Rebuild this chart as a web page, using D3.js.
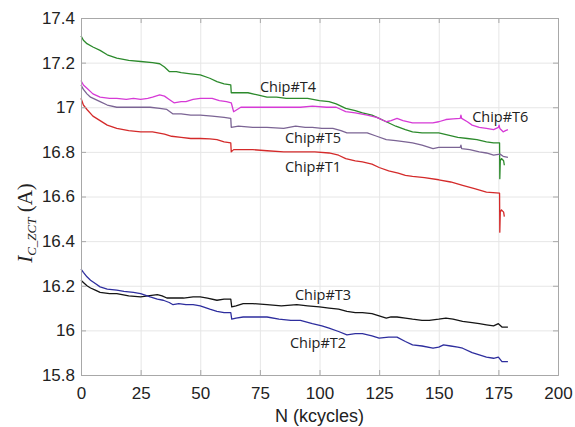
<!DOCTYPE html>
<html>
<head>
<meta charset="utf-8">
<script src="https://cdn.jsdelivr.net/npm/d3@7"></script>
<style>
  body { margin: 0; background: #fff; }
  .tick text { font-family: "Liberation Sans", Arial, sans-serif; font-size: 17px; fill: #222; }
  .chip { font-family: "Open Sans", sans-serif; font-size: 14.5px; fill: #222; }
</style>
</head>
<body>
<div class="canvas"></div>
<script>
// values, [N kcycles, I_C_ZCT A]
const chipT4 = [[0,17.32],[1,17.30],[2.5,17.285],[5,17.27],[8,17.255],[11,17.235],[15,17.22],[20,17.21],[25,17.205],[30,17.2],[33,17.195],[35,17.18],[37,17.16],[40,17.16],[42,17.155],[46,17.15],[50,17.145],[54,17.13],[57,17.115],[60,17.105],[62.8,17.1],[63,17.065],[66,17.065],[70,17.065],[74,17.055],[78,17.045],[82,17.045],[86,17.04],[90,17.04],[95,17.04],[100,17.03],[104,17.025],[107,17.015],[111,16.995],[115,16.985],[118,16.975],[122,16.965],[125,16.95],[128,16.935],[132,16.915],[136,16.9],[139,16.89],[143,16.885],[147,16.885],[150,16.885],[154,16.875],[158,16.865],[162,16.86],[166,16.855],[170,16.845],[173,16.84],[175.5,16.84],[175.6,16.68],[175.8,16.76],[176.3,16.77],[177.2,16.76],[177.5,16.74]];
const chipT6 = [[0,17.12],[1,17.1],[2.5,17.085],[5,17.06],[8,17.045],[12,17.04],[15,17.04],[19,17.035],[22,17.04],[25,17.035],[28,17.04],[30,17.045],[33,17.055],[35,17.05],[37,17.035],[39,17.02],[42,17.025],[44,17.025],[47,17.035],[50,17.04],[53,17.04],[55,17.04],[58,17.03],[61,17.025],[63,17.02],[64,16.98],[65.5,16.99],[67,17.0],[72,17.0],[78,17.0],[85,17.0],[92,17.0],[97,17.005],[103,17.0],[107,17.0],[111,16.98],[115,16.975],[120,16.965],[124,16.955],[128,16.935],[130,16.94],[132.5,16.95],[135,16.94],[139,16.93],[143,16.93],[147.5,16.93],[150,16.935],[153,16.945],[156,16.948],[159,16.95],[159.3,16.965],[159.6,16.95],[162,16.935],[164,16.92],[167,16.91],[170,16.905],[173,16.9],[175,16.91],[175.3,16.92],[175.6,16.905],[177,16.89],[178,16.895],[179,16.9]];
const chipT5 = [[0,17.1],[1,17.08],[2.5,17.06],[4,17.045],[6,17.035],[8,17.025],[11,17.01],[15,17.0],[20,17.0],[25,17.0],[29,17.0],[33,16.995],[36,16.99],[38.6,16.97],[42,16.97],[46,16.965],[50,16.965],[55,16.96],[60,16.955],[62.8,16.95],[63,16.91],[66,16.915],[72,16.91],[78,16.91],[85,16.905],[90,16.915],[94,16.91],[97,16.91],[101,16.905],[105.6,16.905],[109,16.895],[111.5,16.885],[116,16.885],[120,16.885],[124,16.87],[128,16.855],[132,16.85],[136,16.845],[139,16.84],[143,16.83],[147.6,16.815],[150,16.82],[153,16.82],[157,16.82],[159,16.82],[159.3,16.83],[159.6,16.815],[163,16.81],[167,16.8],[170,16.795],[173,16.785],[175.7,16.79],[177,16.78],[179,16.775]];
const chipT1 = [[0,17.04],[1,17.01],[2.5,16.99],[5,16.96],[8,16.94],[11,16.92],[15,16.905],[20,16.895],[25,16.89],[30,16.89],[35,16.88],[38,16.87],[42,16.865],[46,16.86],[50,16.86],[54,16.858],[57,16.855],[60,16.845],[62.8,16.84],[63,16.8],[64,16.81],[68,16.81],[72,16.81],[78,16.805],[85,16.8],[92,16.8],[98,16.8],[104,16.795],[108,16.785],[111,16.77],[115,16.76],[118,16.755],[122,16.745],[125,16.73],[129,16.715],[133,16.705],[136,16.695],[139,16.69],[144,16.685],[150,16.675],[155,16.665],[160,16.65],[165,16.635],[170,16.62],[175.5,16.615],[175.6,16.44],[175.8,16.53],[176.3,16.54],[177.2,16.53],[177.5,16.51]];
const chipT3 = [[0,16.225],[1,16.215],[2.5,16.2],[4,16.19],[6,16.18],[8,16.17],[12,16.165],[15,16.165],[20,16.155],[25,16.15],[28,16.155],[32,16.16],[34,16.155],[36,16.145],[40,16.145],[43,16.145],[47,16.15],[50,16.15],[53,16.145],[57,16.135],[60,16.14],[62.8,16.14],[63.2,16.105],[65,16.11],[68,16.12],[72,16.12],[78,16.115],[84,16.11],[90.5,16.115],[95,16.11],[100,16.105],[104,16.1],[108,16.095],[111.5,16.085],[115,16.08],[118,16.08],[122,16.075],[125,16.065],[128,16.055],[130,16.06],[132.5,16.06],[136,16.055],[139,16.05],[143,16.045],[146,16.045],[150,16.05],[153,16.055],[156,16.05],[160,16.04],[164,16.035],[167,16.03],[170,16.025],[173,16.02],[175,16.03],[176.5,16.015],[179,16.015]];
const chipT2 = [[0,16.275],[1,16.26],[2.5,16.24],[4,16.225],[6,16.21],[8,16.195],[11,16.185],[15,16.18],[18,16.175],[22,16.17],[25,16.165],[29,16.15],[32,16.14],[34.5,16.135],[37,16.125],[38.6,16.115],[41,16.12],[44,16.115],[47,16.115],[50,16.11],[54,16.095],[57,16.085],[60,16.08],[62.8,16.08],[63.2,16.05],[65,16.055],[68,16.06],[72,16.06],[78,16.06],[83,16.05],[88,16.045],[92,16.045],[97,16.03],[101,16.02],[104,16.01],[108,15.995],[111.5,15.98],[115,15.985],[118,15.985],[122,15.975],[125,15.965],[129,15.97],[132.5,15.97],[136,15.95],[139,15.935],[143,15.93],[147.6,15.92],[150,15.925],[152,15.935],[155,15.93],[158,15.925],[160,15.92],[164,15.9],[167,15.89],[170,15.88],[173,15.875],[175,15.88],[176.5,15.86],[179,15.86]];

const chipNames = ['Chip#T4', 'Chip#T6', 'Chip#T5', 'Chip#T1', 'Chip#T3', 'Chip#T2'];
const chipColours = ['#2c8a2c', '#d63ad6', '#7b6494', '#d42a2a', '#151515', '#2e2e9e'];
const labelN = [75, 164, 85.5, 85.5, 89.7, 87.6];
const labelI = [17.068, 16.936, 16.84, 16.71, 16.136, 15.921];

const xTicks = [0, 25, 50, 75, 100, 125, 150, 175, 200];
const yTicks = [15.8, 16, 16.2, 16.4, 16.6, 16.8, 17, 17.2, 17.4];

const series = [chipT4, chipT6, chipT5, chipT1, chipT3, chipT2];

const dims = { width: 575, height: 427 };
const margin = { top: 18, right: 17, bottom: 52, left: 81 };
const w = dims.width - margin.left - margin.right;
const h = dims.height - margin.top - margin.bottom;

const svg = d3.select('.canvas')
    .append('svg')
    .attr('width', dims.width)
    .attr('height', dims.height);

const graph = svg.append('g')
    .attr('transform', `translate(${margin.left}, ${margin.top})`);

const x = d3.scaleLinear().domain([0, 200]).range([0, w]);
const y = d3.scaleLinear().domain([15.8, 17.4]).range([h, 0]);

// grid
graph.append('g')
    .attr('transform', `translate(0, ${h})`)
    .call(d3.axisBottom(x).tickValues(xTicks).tickSize(-h).tickFormat(''))
    .call(g => g.select('.domain').remove())
    .selectAll('line').attr('stroke', '#e6e6e6');
graph.append('g')
    .call(d3.axisLeft(y).tickValues(yTicks).tickSize(-w).tickFormat(''))
    .call(g => g.select('.domain').remove())
    .selectAll('line').attr('stroke', '#e6e6e6');

// lines
const line = d3.line()
    .x(d => x(d[0]))
    .y(d => y(d[1]));

graph.selectAll('path.series')
    .data(series)
    .enter()
    .append('path')
        .attr('class', 'series')
        .attr('d', line)
        .attr('fill', 'none')
        .attr('stroke', (d, i) => chipColours[i])
        .attr('stroke-width', 1.3)
        .attr('stroke-linejoin', 'round');

// box axes, ticks pointing in
const boxColour = '#a8a8a8';
const xAxis = graph.append('g')
    .attr('transform', `translate(0, ${h})`)
    .call(d3.axisBottom(x).tickValues(xTicks).tickSize(-5).tickPadding(12).tickFormat(d3.format('d')));
const yAxis = graph.append('g')
    .call(d3.axisLeft(y).tickValues(yTicks).tickSize(-5).tickPadding(6).tickFormat(d => String(+d.toFixed(1))));
const xTop = graph.append('g')
    .call(d3.axisTop(x).tickValues(xTicks).tickSize(-5).tickFormat(''));
const yRight = graph.append('g')
    .attr('transform', `translate(${w}, 0)`)
    .call(d3.axisRight(y).tickValues(yTicks).tickSize(-5).tickFormat(''));

[xAxis, yAxis, xTop, yRight].forEach(a => {
    a.select('.domain').attr('stroke', boxColour);
    a.selectAll('.tick line').attr('stroke', boxColour);
});
xAxis.selectAll('.tick text').attr('font-size', null);
yAxis.selectAll('.tick text').attr('font-size', null);

// chip labels
graph.selectAll('text.chip')
    .data(chipNames)
    .enter()
    .append('text')
        .attr('class', 'chip')
        .attr('x', (d, i) => x(labelN[i]))
        .attr('y', (d, i) => y(labelI[i]))
        .text(d => d);

// axis titles
svg.append('text')
    .attr('x', margin.left + w / 2)
    .attr('y', 422)
    .attr('text-anchor', 'middle')
    .attr('font-family', '"Liberation Sans", Arial, sans-serif')
    .attr('font-size', 18)
    .attr('fill', '#222')
    .text('N (kcycles)');

const yTitle = svg.append('text')
    .attr('transform', 'translate(32, 223) rotate(-90)')
    .attr('text-anchor', 'middle')
    .attr('font-family', '"Liberation Serif", "DejaVu Serif", serif')
    .attr('fill', '#222');
yTitle.append('tspan').attr('font-size', 21).attr('font-style', 'italic').text('I');
yTitle.append('tspan').attr('font-size', 13).attr('font-style', 'italic').attr('dy', 4).text('C_ZCT');
yTitle.append('tspan').attr('font-size', 21).attr('dy', -4).text('\u00a0(A)');
</script>
</body>
</html>
